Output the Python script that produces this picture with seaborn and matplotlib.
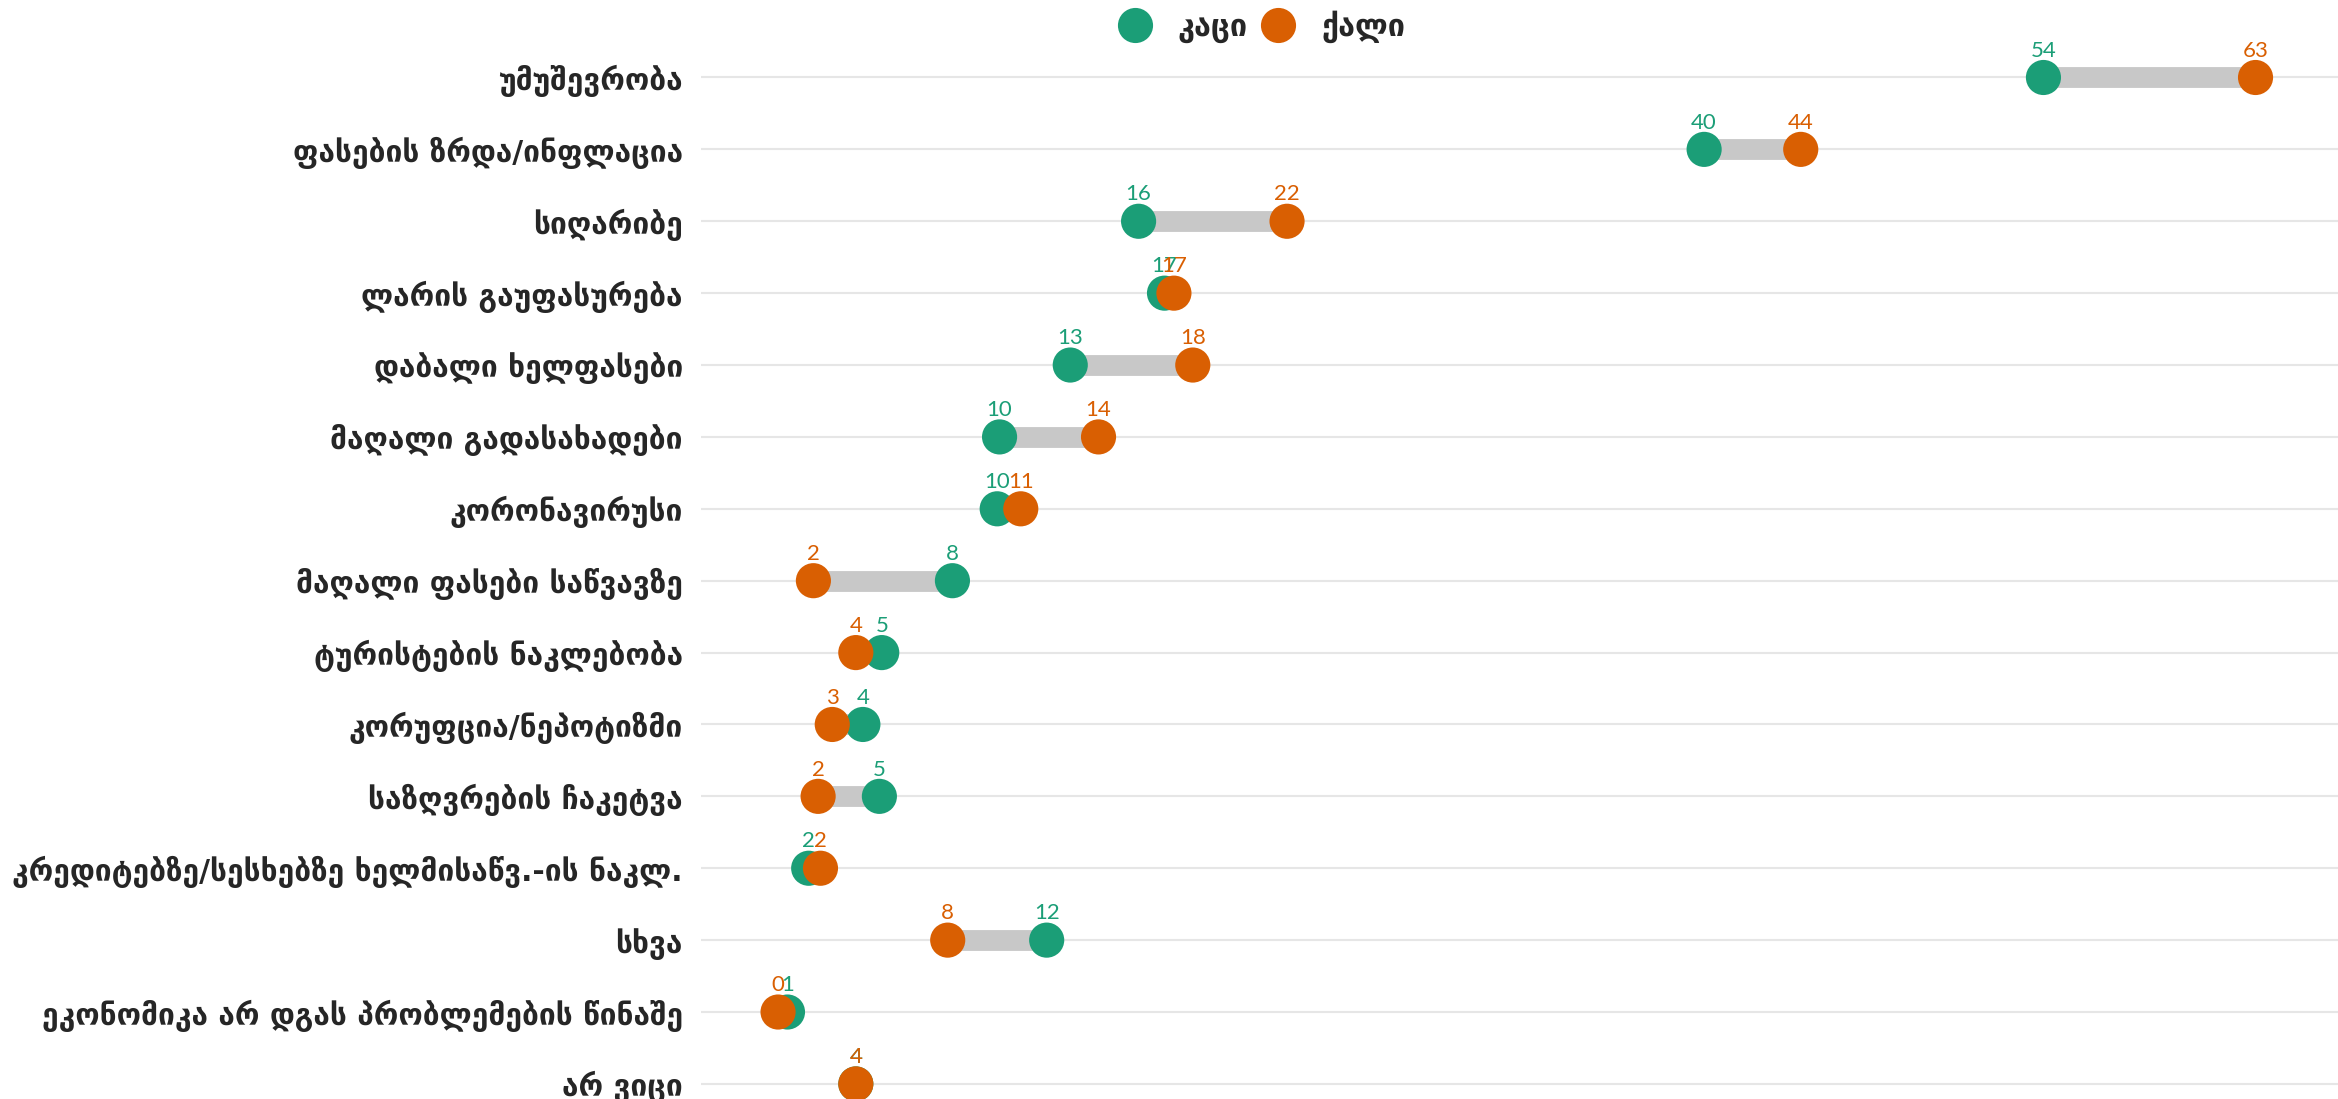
import matplotlib
matplotlib.use("Agg")
import matplotlib.pyplot as plt
import pandas as pd
import seaborn as sns

# ── Data ──────────────────────────────────────────────────────────────────────
categories = [
    "უმუშევრობა",
    "ფასების ზრდა/ინფლაცია",
    "სიღარიბე",
    "ლარის გაუფასურება",
    "დაბალი ხელფასები",
    "მაღალი გადასახადები",
    "კორონავირუსი",
    "მაღალი ფასები საწვავზე",
    "ტურისტების ნაკლებობა",
    "კორუფცია/ნეპოტიზმი",
    "საზღვრების ჩაკეტვა",
    "კრედიტებზე/სესხებზე ხელმისაწვ.-ის ნაკლ.",
    "სხვა",
    "ეკონომიკა არ დგას პრობლემების წინაშე",
    "არ ვიცი",
]
men   = [54.0, 39.6, 15.6, 16.7, 12.7, 9.7, 9.6, 7.7, 4.7, 3.9, 4.6, 1.6, 11.7, 0.7, 3.6]
women = [63.0, 43.7, 21.9, 17.1, 17.9, 13.9, 10.6, 1.8, 3.6, 2.6, 2.0, 2.1, 7.5, 0.3, 3.6]
series_names = ["კაცი", "ქალი"]

COLORS = {"კაცი": "#1b9e77", "ქალი": "#d95f02", "bar": "#c8c8c8", "grid": "#e6e6e6"}

df = pd.DataFrame({"cat": categories, "კაცი": men, "ქალი": women})
long = df.melt(id_vars="cat", value_vars=series_names, var_name="sex", value_name="pct")

sns.set_style("white")
plt.rcParams["font.family"] = ["DejaVu Sans"]

W, H = 2338, 1099
fig = plt.figure(figsize=(W / 100, H / 100), dpi=100)
left = 701 / W
ax = fig.add_axes([left, 0, 1 - left, 1])

ypos = {c: i for i, c in enumerate(categories)}
long["y"] = long["cat"].map(ypos)

# connecting bars between the two points
ax.hlines(df.index, df[series_names].min(axis=1), df[series_names].max(axis=1),
          color=COLORS["bar"], linewidth=15, zorder=2, capstyle="butt")

sns.scatterplot(data=long, x="pct", y="y", hue="sex", hue_order=series_names,
                palette=[COLORS[s] for s in series_names], s=640, linewidth=0,
                ax=ax, zorder=3, legend=True)

# value labels
for _, r in long.iterrows():
    ax.annotate(f"{r['pct']:.0f}", (r["pct"], r["y"]), xytext=(0, 15),
                textcoords="offset points", ha="center", va="baseline",
                color=COLORS[r["sex"]], fontsize=16, family=["Lato", "DejaVu Sans"],
                zorder=4)

ax.set_xlim(-2.97, 66.5)
ax.set_ylim(14.21, -1.078)
ax.set_yticks(range(len(categories)))
ax.set_yticklabels(categories, fontsize=21.5, fontweight="bold")
ax.set_xticks([])
ax.set_xlabel("")
ax.set_ylabel("")
ax.tick_params(axis="y", length=0, pad=13)
ax.grid(axis="y", color=COLORS["grid"], linewidth=1.5, zorder=0)
ax.set_axisbelow(True)
for sp in ax.spines.values():
    sp.set_visible(False)

handles, labels = ax.get_legend_handles_labels()
ax.legend(handles, labels, loc="center", bbox_to_anchor=(0.343, 0.976), ncol=2,
          frameon=False, markerscale=1.0, handlelength=1.0, handletextpad=0.9,
          columnspacing=0.5, prop={"size": 22, "weight": "bold"})

fig.savefig("out.png", dpi=100)
plt.close(fig)
